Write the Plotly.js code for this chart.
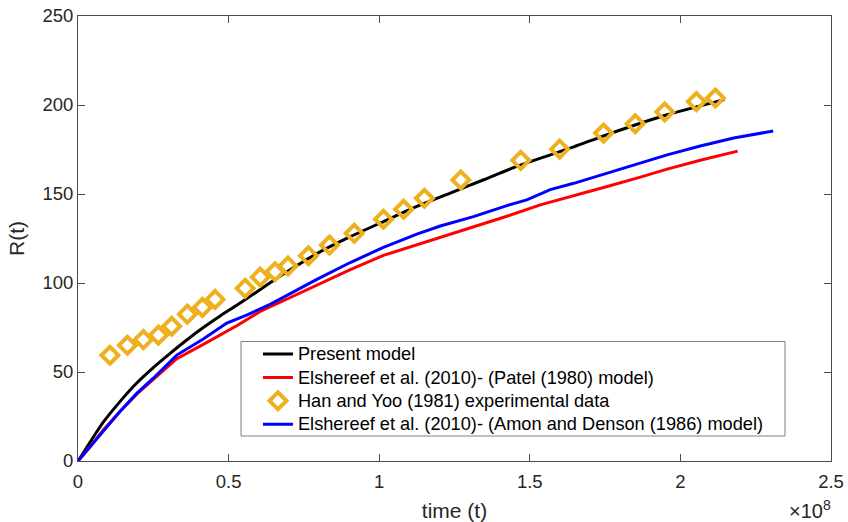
<!DOCTYPE html>
<html>
<head>
<meta charset="utf-8">
<script src="https://cdn.plot.ly/plotly-3.0.1.min.js"></script>
<style>html,body{margin:0;padding:0;background:#fff;}#chart{width:848px;height:522px;}</style>
</head>
<body>
<div id="chart"></div>
<script>
// time values in units of 1e8
const presentT = [0, 0.02, 0.04, 0.084, 0.14, 0.195, 0.25, 0.306, 0.361, 0.416, 0.472, 0.527, 0.58, 0.682, 0.793, 0.904, 1.014, 1.125, 1.236, 1.347, 1.457, 1.568, 1.646, 1.734, 1.845, 1.956, 2.066, 2.146];
const presentR = [0, 5.2, 10.5, 21.8, 33.5, 43.8, 52.5, 60.5, 68, 75, 81.5, 87.5, 93.5, 105, 116.5, 126, 134.5, 143, 150.5, 158, 165.5, 172, 176.5, 182, 188.5, 194.5, 199.5, 203];

const patelT = [0, 0.04, 0.084, 0.14, 0.195, 0.25, 0.328, 0.416, 0.527, 0.605, 0.682, 0.793, 0.904, 1.014, 1.125, 1.236, 1.313, 1.424, 1.535, 1.646, 1.757, 1.867, 1.956, 2.066, 2.19];
const patelR = [0, 8, 17.5, 28, 37.5, 46, 57.5, 65.5, 76, 84, 90, 99, 107.5, 115.5, 121.5, 127.5, 131.3, 137.5, 143.9, 148.9, 154.2, 159.5, 164, 169, 174.1];

const hanT = [0.106, 0.164, 0.217, 0.267, 0.311, 0.363, 0.413, 0.455, 0.555, 0.605, 0.654, 0.697, 0.765, 0.835, 0.917, 1.014, 1.081, 1.150, 1.271, 1.470, 1.599, 1.745, 1.850, 1.948, 2.053, 2.116];
const hanR = [59.4, 65.0, 68.2, 70.7, 75.7, 82.5, 86.3, 90.8, 97.0, 103.3, 106.3, 109.5, 115.3, 121.3, 127.9, 135.8, 141.4, 147.6, 157.9, 168.9, 175.2, 184.2, 189.5, 196.1, 201.9, 203.9];

const amonT = [0, 0.04, 0.084, 0.14, 0.195, 0.25, 0.328, 0.416, 0.494, 0.56, 0.638, 0.682, 0.793, 0.904, 1.014, 1.125, 1.203, 1.313, 1.424, 1.49, 1.568, 1.646, 1.757, 1.867, 1.956, 2.066, 2.177, 2.308];
const amonR = [0, 8, 17, 28, 38, 46.5, 59.5, 68.5, 77.5, 82, 88, 92, 102, 111.5, 120, 127.5, 132, 137.3, 143.5, 146.7, 152.5, 156, 161.7, 167.3, 172, 177, 181.5, 185.4];

const seriesNames = [
  'Present model',
  'Elshereef et al. (2010)- (Patel (1980) model)',
  'Han and Yoo (1981) experimental data',
  'Elshereef et al. (2010)- (Amon and Denson (1986) model)'
];
const xTickVals = [0, 0.5, 1, 1.5, 2, 2.5];
const xTickText = ['0', '0.5', '1', '1.5', '2', '2.5'];
const yTickVals = [0, 50, 100, 150, 200, 250];

const FONT = 'Liberation Sans, Arial, Helvetica, sans-serif';
const AX = '#4d4d4d';
const legendLabel = s => '<span style="font-size:18.2px">' + s + '</span>';

const traces = [
  {x: presentT, y: presentR, name: legendLabel(seriesNames[0]), mode: 'lines', line: {color: '#000000', width: 3, shape: 'spline', smoothing: 0.8}},
  {x: patelT, y: patelR, name: legendLabel(seriesNames[1]), mode: 'lines', line: {color: '#ff0000', width: 3}},
  {x: hanT, y: hanR, name: legendLabel(seriesNames[2]), mode: 'markers',
   marker: {symbol: 'diamond-open', size: 13, color: '#EDB120', line: {color: '#EDB120', width: 4}}},
  {x: amonT, y: amonR, name: legendLabel(seriesNames[3]), mode: 'lines', line: {color: '#0000ff', width: 3}}
];

const axisCommon = {
  showgrid: false, zeroline: false, showline: true, linecolor: AX, linewidth: 1,
  mirror: 'ticks', ticks: 'inside', ticklen: 7, tickwidth: 1, tickcolor: AX,
  tickfont: {family: FONT, size: 18.5, color: '#262626'}
};

const layout = {
  width: 848, height: 522,
  margin: {l: 78, r: 17, t: 16, b: 61},
  paper_bgcolor: '#ffffff', plot_bgcolor: '#ffffff',
  font: {family: FONT, color: '#262626'},
  xaxis: Object.assign({}, axisCommon, {
    range: [0, 2.5], tickvals: xTickVals, ticktext: xTickText, ticklabelstandoff: 4,
    title: {text: 'time (t)', font: {family: FONT, size: 21, color: '#262626'}, standoff: 13}
  }),
  yaxis: Object.assign({}, axisCommon, {
    range: [0, 250], tickvals: yTickVals,
    title: {text: 'R(t)', font: {family: FONT, size: 21, color: '#262626'}, standoff: 12}
  }),
  showlegend: true,
  legend: {
    x: 0.239, y: 0.278, xanchor: 'left', yanchor: 'top',
    bgcolor: 'rgba(0,0,0,0)', borderwidth: 0,
    font: {family: FONT, size: 15.7, color: '#000000'}
  },
  shapes: [
    {type: 'rect', xref: 'paper', yref: 'paper', x0: 0.2165, x1: 0.9389, y0: 0.0562, y1: 0.2685,
     line: {color: '#7f7f7f', width: 1}, fillcolor: '#ffffff', layer: 'below'}
  ],
  annotations: [
    {xref: 'paper', yref: 'paper', x: 1.003, y: -0.142, xanchor: 'right', yanchor: 'bottom',
     text: '×10<sup>8</sup>', showarrow: false, font: {family: FONT, size: 20, color: '#262626'}}
  ]
};

Plotly.newPlot('chart', traces, layout, {staticPlot: true, displayModeBar: false});
</script>
</body>
</html>
